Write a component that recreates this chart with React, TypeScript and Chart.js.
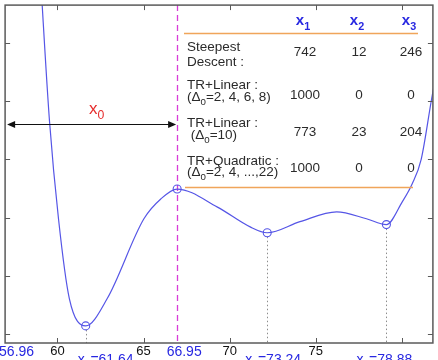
import { useEffect, useRef } from "react";
import { Chart, registerables } from "chart.js";

Chart.register(...registerables);

// ---------- data ----------
const curveX = [58.99, 59.54, 60.06, 60.69, 61.64, 62.89, 65.02, 66.0, 66.95, 69.29, 71.19, 72.18, 74.08, 76.21, 77.94, 79.1, 80.02, 80.6, 81.12, 81.75, 82.16];
const curveY = [6.25, 3.65, 1.98, 0.61, 0.14, 0.61, 1.98, 2.32, 2.49, 2.18, 1.84, 1.74, 1.93, 2.1, 1.98, 1.88, 2.27, 2.58, 3.0, 4.08, 4.71];

const markerX = [61.64, 66.95, 72.18, 79.1];
const markerY = [0.14, 2.49, 1.74, 1.88];

const xTicks = [60, 65, 70, 75, 80];
const xTickLabels = ["60", "65", "70", "75", ""];
const yTicks = [0, 1, 2, 3, 4, 5];

const startRange = [56.96, 66.95];
const startLabels = ["56.96", "66.95"];
const minimaLabels = ["x_{1}=61.64", "x_{2}=73.24", "x_{3}=78.88"];
const minimaMarkerIndex = [0, 2, 3];

const headers = ["x_{1}", "x_{2}", "x_{3}"];
const methods = [
  ["Steepest", "Descent :"],
  ["TR+Linear :", "(Δ_{0}=2, 4, 6, 8)"],
  ["TR+Linear :", " (Δ_{0}=10)"],
  ["TR+Quadratic :", "(Δ_{0}=2, 4, ...,22)"],
];
const hitsX1 = [742, 1000, 773, 1000];
const hitsX2 = [12, 0, 23, 0];
const hitsX3 = [246, 0, 204, 0];

// ---------- styles ----------
const FONT = "'Liberation Sans', Arial, sans-serif";
const BLUE_TXT = "rgb(40,40,225)";
const CURVE = "rgb(85,85,230)";
const FRAME = "#5a5a5a";

function drawRich(
  ctx: CanvasRenderingContext2D,
  text: string,
  x: number,
  y: number,
  size: number,
  align: "left" | "center" | "right",
  color: string,
  weight: string = "normal"
) {
  const parts: { t: string; sub: boolean }[] = [];
  const re = /_\{([^}]*)\}/g;
  let last = 0;
  let m: RegExpExecArray | null;
  while ((m = re.exec(text))) {
    if (m.index > last) parts.push({ t: text.slice(last, m.index), sub: false });
    parts.push({ t: m[1], sub: true });
    last = m.index + m[0].length;
  }
  if (last < text.length) parts.push({ t: text.slice(last), sub: false });
  const subSize = size * 0.72;
  let total = 0;
  const widths = parts.map((p) => {
    ctx.font = `${weight} ${p.sub ? subSize : size}px ${FONT}`;
    const w = ctx.measureText(p.t).width;
    total += w;
    return w;
  });
  let cx = align === "left" ? x : align === "center" ? x - total / 2 : x - total;
  ctx.fillStyle = color;
  ctx.textAlign = "left";
  ctx.textBaseline = "middle";
  parts.forEach((p, i) => {
    ctx.font = `${weight} ${p.sub ? subSize : size}px ${FONT}`;
    ctx.fillText(p.t, cx, p.sub ? y + size * 0.38 : y);
    cx += widths[i];
  });
}

const overlay = {
  id: "overlay",
  beforeDatasetsDraw(chart: any) {
    const { ctx, chartArea: a, scales } = chart;
    const xs = scales.x;
    const ys = scales.y;
    ctx.save();
    // dotted drop lines from minima
    ctx.strokeStyle = "#8c8c8c";
    ctx.lineWidth = 1;
    ctx.setLineDash([1.5, 2.5]);
    minimaMarkerIndex.forEach((mi) => {
      const px = Math.round(xs.getPixelForValue(markerX[mi])) + 0.5;
      ctx.beginPath();
      ctx.moveTo(px, ys.getPixelForValue(markerY[mi]) + 4);
      ctx.lineTo(px, a.bottom);
      ctx.stroke();
    });
    // magenta dashed line at start range end
    ctx.strokeStyle = "#d83cd8";
    ctx.lineWidth = 1.3;
    ctx.setLineDash([6, 4]);
    const dx = Math.round(xs.getPixelForValue(startRange[1])) + 0.5;
    ctx.beginPath();
    ctx.moveTo(dx, a.top);
    ctx.lineTo(dx, a.bottom);
    ctx.stroke();
    ctx.restore();
  },
  afterDraw(chart: any) {
    const { ctx, chartArea: a, scales } = chart;
    const xs = scales.x;
    const ys = scales.y;
    ctx.save();
    ctx.setLineDash([]);
    // frame
    ctx.strokeStyle = FRAME;
    ctx.lineWidth = 1.5;
    ctx.strokeRect(a.left, a.top, a.right - a.left, a.bottom - a.top);
    // inward ticks
    ctx.lineWidth = 1;
    const tl = 5;
    xTicks.forEach((v) => {
      const px = Math.round(xs.getPixelForValue(v)) + 0.5;
      ctx.beginPath();
      ctx.moveTo(px, a.bottom);
      ctx.lineTo(px, a.bottom - tl);
      ctx.moveTo(px, a.top);
      ctx.lineTo(px, a.top + tl);
      ctx.stroke();
    });
    yTicks.forEach((v) => {
      const py = Math.round(ys.getPixelForValue(v)) + 0.5;
      ctx.beginPath();
      ctx.moveTo(a.left, py);
      ctx.lineTo(a.left + tl, py);
      ctx.moveTo(a.right, py);
      ctx.lineTo(a.right - tl, py);
      ctx.stroke();
    });

    // double arrow for x0 range
    const ax0 = xs.getPixelForValue(startRange[0]) + 2;
    const ax1 = xs.getPixelForValue(startRange[1]) - 1;
    const ay = Math.round(ys.getPixelForValue(3.6)) + 0.5;
    ctx.strokeStyle = "#111";
    ctx.fillStyle = "#111";
    ctx.lineWidth = 1;
    ctx.beginPath();
    ctx.moveTo(ax0 + 4, ay);
    ctx.lineTo(ax1 - 4, ay);
    ctx.stroke();
    ctx.beginPath();
    ctx.moveTo(ax0, ay);
    ctx.lineTo(ax0 + 8, ay - 3.5);
    ctx.lineTo(ax0 + 8, ay + 3.5);
    ctx.closePath();
    ctx.fill();
    ctx.beginPath();
    ctx.moveTo(ax1, ay);
    ctx.lineTo(ax1 - 8, ay - 3.5);
    ctx.lineTo(ax1 - 8, ay + 3.5);
    ctx.closePath();
    ctx.fill();
    drawRich(ctx, "x_{0}", (ax0 + ax1) / 2 + 5, ay - 15, 17, "center", "rgb(230,45,45)");

    // start range labels below axis
    const startOffsets = [11.5, 7];
    startRange.forEach((v, i) => {
      drawRich(ctx, startLabels[i], xs.getPixelForValue(v) + startOffsets[i], a.bottom + 9.5, 14, "center", BLUE_TXT);
    });
    // minima labels (partially cut by the bottom edge)
    const minOffsets = [20, 6, -2];
    minimaMarkerIndex.forEach((mi, i) => {
      drawRich(ctx, minimaLabels[i], xs.getPixelForValue(markerX[mi]) + minOffsets[i], a.bottom + 17, 14, "center", BLUE_TXT);
    });

    // table
    const colX = [304, 358, 410];
    const textX = 187;
    const line1Y = [47, 85, 123, 161];
    const line2Y = [62, 97, 135, 172];
    const valY = [52, 95, 132, 168];
    headers.forEach((h, i) => drawRich(ctx, h, colX[i] - 1, 21, 15, "center", BLUE_TXT, "bold"));
    ctx.strokeStyle = "rgb(240,165,90)";
    ctx.lineWidth = 1.5;
    ctx.beginPath();
    ctx.moveTo(184, 33.5);
    ctx.lineTo(418, 33.5);
    ctx.moveTo(185, 187.5);
    ctx.lineTo(413, 187.5);
    ctx.stroke();
    const txt = "#2b2b2b";
    methods.forEach((lines, r) => {
      drawRich(ctx, lines[0], textX, line1Y[r], 13.5, "left", txt);
      drawRich(ctx, lines[1], textX, line2Y[r], 13.5, "left", txt);
      drawRich(ctx, String(hitsX1[r]), colX[0] + 1, valY[r], 13.5, "center", txt);
      drawRich(ctx, String(hitsX2[r]), colX[1] + 1, valY[r], 13.5, "center", txt);
      drawRich(ctx, String(hitsX3[r]), colX[2] + 1, valY[r], 13.5, "center", txt);
    });
    ctx.restore();
  },
};

export default function App() {
  const ref = useRef<HTMLCanvasElement | null>(null);
  useEffect(() => {
    if (!ref.current) return;
    const chart = new Chart(ref.current, {
      type: "line",
      data: {
        datasets: [
          {
            data: curveX.map((x, i) => ({ x, y: curveY[i] })),
            borderColor: CURVE,
            borderWidth: 1.2,
            pointRadius: 0,
            cubicInterpolationMode: "monotone",
            fill: false,
          },
          {
            data: markerX.map((x, i) => ({ x, y: markerY[i] })),
            showLine: false,
            pointRadius: 4,
            pointBorderWidth: 1.1,
            pointBorderColor: CURVE,
            pointBackgroundColor: "rgba(0,0,0,0)",
            borderColor: CURVE,
          },
        ],
      },
      options: {
        responsive: false,
        animation: false,
        events: [],
        layout: { padding: { left: 3, right: 4.5, top: 5, bottom: 0 } },
        plugins: { legend: { display: false }, tooltip: { enabled: false } },
        scales: {
          x: {
            type: "linear",
            min: 56.96,
            max: 81.8,
            afterBuildTicks: (s: any) => {
              s.ticks = xTicks.map((v) => ({ value: v }));
            },
            grid: { display: false, drawTicks: false },
            border: { display: false },
            ticks: {
              padding: 2,
              color: "#111",
              maxRotation: 0,
              autoSkip: false,
              font: { family: FONT, size: 13, lineHeight: 1 },
              callback: (v: any) => {
                const i = xTicks.indexOf(Number(v));
                return i >= 0 ? xTickLabels[i] : "";
              },
            },
          },
          y: {
            type: "linear",
            min: -0.154,
            max: 5.65,
            afterBuildTicks: (s: any) => {
              s.ticks = yTicks.map((v) => ({ value: v }));
            },
            grid: { display: false, drawTicks: false },
            border: { display: false },
            ticks: { display: false },
          },
        },
      },
      plugins: [overlay],
    } as any);
    return () => chart.destroy();
  }, []);
  return (
    <div style={{ position: "fixed", left: 0, top: 0, width: 438, height: 360, background: "#fff" }}>
      <canvas ref={ref} width={438} height={360} style={{ width: 438, height: 360, display: "block" }} />
    </div>
  );
}
